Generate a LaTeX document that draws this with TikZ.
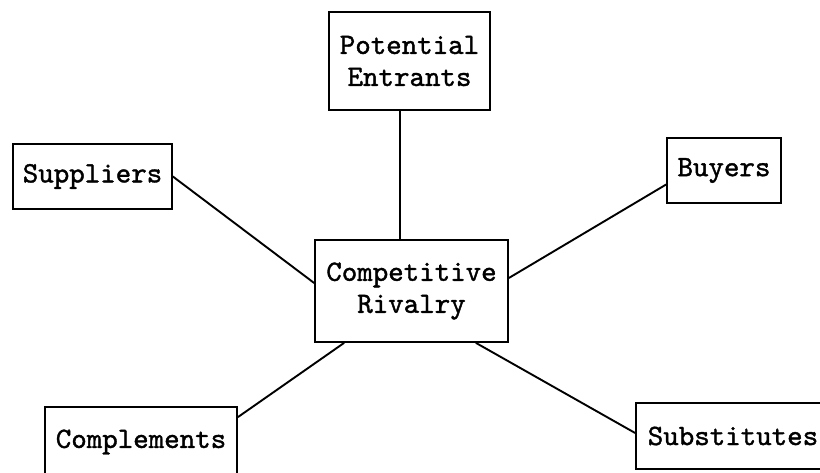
\documentclass[tikz,border=0pt]{standalone}
\usepackage{fontspec}
% typewriter face, slightly emboldened
\newfontfamily\typewriter{lmmono10-regular.otf}[FakeBold=1.3]
\usetikzlibrary{calc}
\begin{document}
\begin{tikzpicture}[x=1pt,y=-1pt,
  box/.style={draw=black, line width=1.7pt, align=center, inner sep=0pt,
    font=\typewriter\fontsize{29.5}{32}\selectfont},
  link/.style={draw=black, line width=1.9pt}]
\clip (0,0) rectangle (820,472);
\fill[white] (0,0) rectangle (820,472);

% the six forces
\node[box, minimum width=161pt, minimum height=98pt]  (pe)   at (409.5,61)  {Potential\\Entrants};
\node[box, minimum width=159pt, minimum height=65pt]  (sup)  at (92.5,176.5) {Suppliers};
\node[box, minimum width=114pt, minimum height=65pt]  (buy)  at (724,170.5)  {Buyers};
\node[box, minimum width=193pt, minimum height=102pt] (cr)   at (411.5,291)  {Competitive\\Rivalry};
\node[box, minimum width=192pt, minimum height=70pt]  (comp) at (141,442)    {Complements};
\node[box, minimum width=194pt, minimum height=66pt]  (sub)  at (733,436)    {Substitutes};

% spokes into the central box
\coordinate (mx) at (400,0);
\draw[link] (pe.south -| mx) -- (cr.north -| mx);
\draw[link] (sup.east) -- ($(cr.west)+(0,-8)$);
\draw[link] ($(buy.west)+(0,14)$) -- ($(cr.east)+(0,-13)$);
\draw[link] ($(comp.north east)+(0,11)$) -- ($(cr.south west)+(30,0)$);
\draw[link] ($(sub.west)+(0,-3)$) -- ($(cr.south east)+(-33,0)$);
\end{tikzpicture}
\end{document}
